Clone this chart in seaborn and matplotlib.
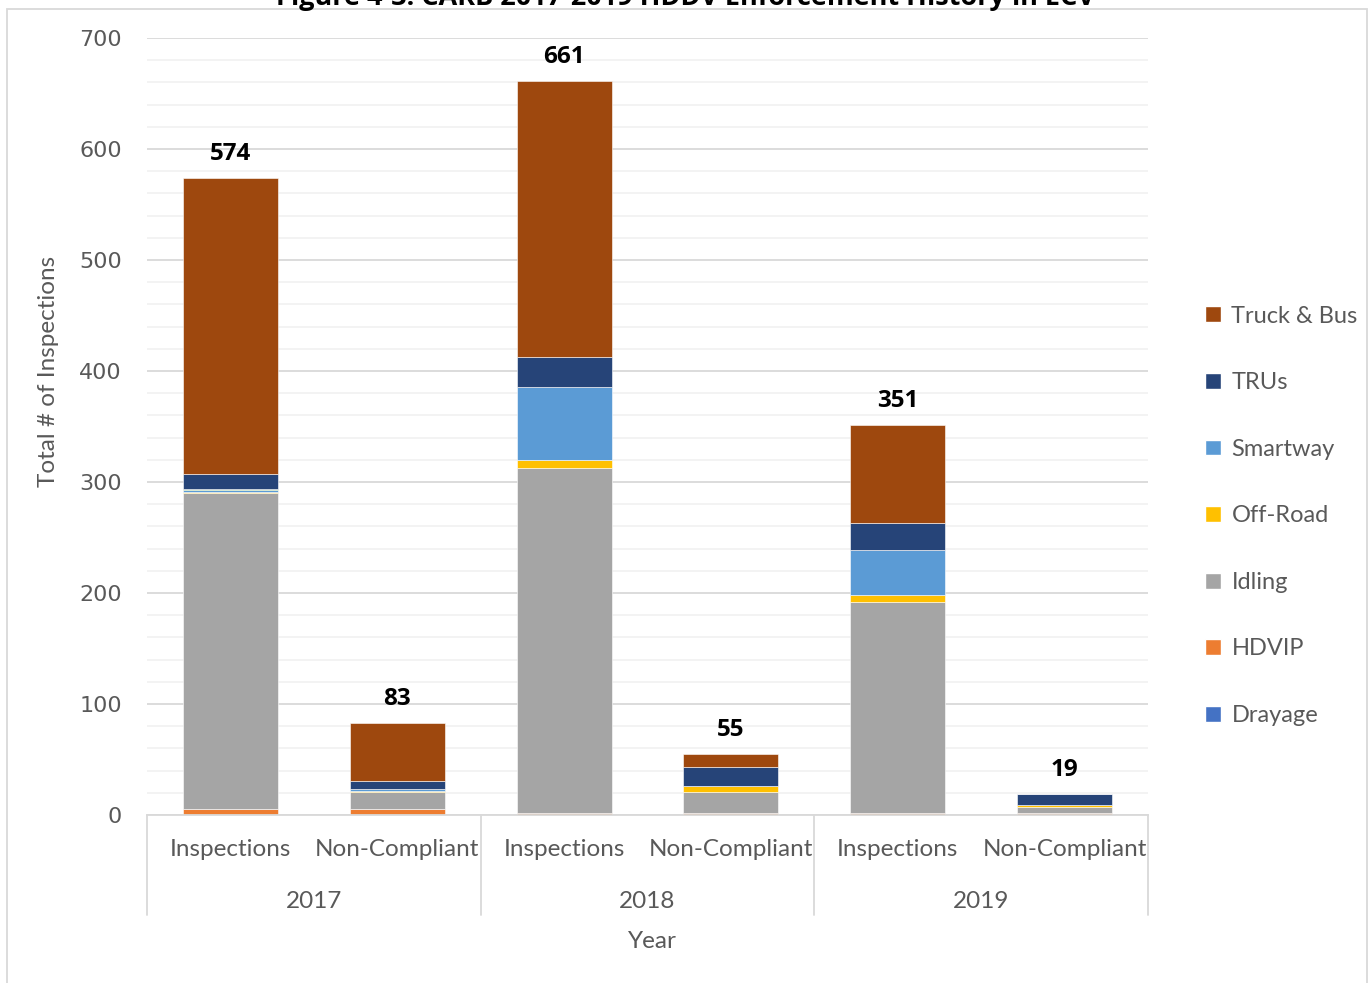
import numpy as np
import pandas as pd
import matplotlib.pyplot as plt
from matplotlib.patches import Patch, Rectangle
import seaborn as sns

# Bars, left to right: (year, type)
years = ["2017", "2018", "2019"]
kinds = ["Inspections", "Non-Compliant"]
bar_keys = [f"{y} {k}" for y in years for k in kinds]

# Stack layers, bottom to top
drayage = [0, 0, 0, 0, 0, 0]
hdvip = [5, 5, 2, 2, 2, 2]
idling = [285, 16, 311, 19, 190, 5]
off_road = [1, 1, 7, 5, 6, 2]
smartway = [2, 1, 66, 0, 41, 0]
other = [1, 0, 0, 0, 0, 0]          # thin green sliver, not in the legend
trus = [13, 8, 27, 17, 24, 10]
truck_bus = [267, 52, 248, 12, 88, 0]
totals = [574, 83, 661, 55, 351, 19]

layers = [
    ("Drayage", drayage, "#4472C4"),
    ("HDVIP", hdvip, "#ED7D31"),
    ("Idling", idling, "#A5A5A5"),
    ("Off-Road", off_road, "#FFC000"),
    ("Smartway", smartway, "#5B9BD5"),
    ("Other", other, "#70AD47"),
    ("TRUs", trus, "#264478"),
    ("Truck & Bus", truck_bus, "#9E480E"),
]

sns.set_theme(style="white")
plt.rcParams['font.family'] = ['Lato', 'DejaVu Sans']
GREY = "#595959"

fig = plt.figure(figsize=(13.7, 9.83), dpi=100)
ax = fig.add_axes([147 / 1370, 1 - 815 / 983, 1001 / 1370, 777 / 983])

# Stack the layers with seaborn, one call per layer.
bottom = np.zeros(len(bar_keys))
for name, vals, color in layers:
    df = pd.DataFrame({"bar": bar_keys, "value": vals})
    sns.barplot(data=df, x="bar", y="value", order=bar_keys, color=color,
                bottom=bottom, width=0.57, saturation=1, ax=ax,
                edgecolor="white", linewidth=0.4, errorbar=None)
    bottom = bottom + np.array(vals)

# Totals above the bars
for i, t in enumerate(totals):
    ax.text(i, t + 11, f"{t}", ha="center", va="bottom", fontsize=17.5,
            fontweight="bold", color="black", family=['Open Sans', 'DejaVu Sans'])

ax.set_xlim(-0.5, 5.5)
ax.set_ylim(0, 700)
ax.set_yticks(range(0, 701, 100))
ax.set_yticks(range(0, 701, 20), minor=True)
ax.grid(axis="y", which="major", color="#D9D9D9", linewidth=1.3)
ax.grid(axis="y", which="minor", color="#F2F2F2", linewidth=1.3)
ax.set_axisbelow(True)
ax.tick_params(axis="y", which="both", length=0, pad=18, labelsize=16, labelcolor=GREY)
ax.tick_params(axis="x", length=0, pad=17, labelsize=17.5, labelcolor=GREY)
ax.set_xticks(range(len(bar_keys)))
ax.set_xticklabels(kinds * len(years))
for lbl in ax.get_yticklabels():
    lbl.set_fontfamily(['DejaVu Sans'])

for side in ["left", "right", "top"]:
    ax.spines[side].set_visible(False)
ax.spines["bottom"].set_color("#D9D9D9")
ax.spines["bottom"].set_linewidth(1.3)

# Year group separators and labels
trans = ax.get_xaxis_transform()
for x in [-0.5, 1.5, 3.5, 5.5]:
    ax.plot([x, x], [0, -100 / 777], transform=trans, color="#D9D9D9",
            linewidth=1.3, clip_on=False)
for i, y in enumerate(years):
    ax.text(2 * i + 0.5, -87 / 777, y, transform=trans, ha="center", va="center",
            fontsize=17.5, color=GREY)
ax.text(2.53, -127 / 777, "Year", transform=trans, ha="center", va="center",
        fontsize=17.5, color=GREY)

ax.set_xlabel("")
ax.set_ylabel("Total # of Inspections", fontsize=17.5, color=GREY)
ax.yaxis.set_label_coords(-88 / 1001, (815 - 371) / 777)

# Legend, top layer first, no green sliver
handles = [Patch(facecolor=c, label=n) for n, v, c in reversed(layers) if n != "Other"]
ax.legend(handles=handles, loc="center left", bbox_to_anchor=(1.048, 0.385),
          frameon=False, fontsize=17, handlelength=0.65, handleheight=0.65,
          handletextpad=0.45, labelspacing=1.93, borderaxespad=0, labelcolor=GREY)

# Chart frame and clipped title above it
fig.patches.append(Rectangle((7 / 1370, -0.1), 1360 / 1370, 1.1 - 9 / 983,
                             transform=fig.transFigure, fill=False,
                             edgecolor="#D9D9D9", linewidth=1.3))
fig.text(0.5, 1 - 5 / 983, "Figure 4-3: CARB 2017-2019 HDDV Enforcement History in ECV",
         ha="center", va="baseline", fontsize=19.5, fontweight="bold", color="black",
         family=['Open Sans', 'DejaVu Sans'])

fig.savefig("out.png", dpi=100)
plt.close(fig)
